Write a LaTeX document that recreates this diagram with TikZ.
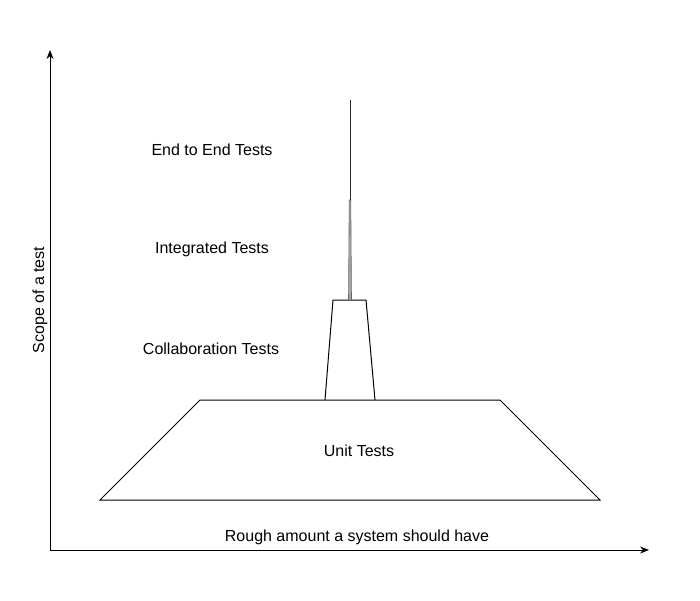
\documentclass[tikz,border=0pt]{standalone}
\usepackage{fontspec}
\setmainfont{Liberation Sans}
\usetikzlibrary{arrows.meta, positioning, calc}

\begin{document}
\begin{tikzpicture}[x=1pt, y=-1pt, >={Stealth[length=9pt, width=7pt]},
    font=\fontsize{16}{19}\selectfont,
    layer/.style={draw=black, line width=1pt, line join=miter},
    axis/.style={->, line width=1pt, black},
    label/.style={inner sep=0pt, anchor=center}
  ]
  \useasboundingbox (0,0) rectangle (700,600);

  % axes
  \coordinate (O) at (50,550);
  \coordinate (ytop) at (50,50);
  \coordinate (xend) at (649,550);
  \draw[axis] (O) -- (ytop);
  \draw[axis] (O) -- (xend);

  % pyramid layers
  \draw[layer] (100,500) -- (200,400) -- (500,400) -- (600,500) -- cycle;
  \draw[layer] (325,400) -- (333,300) -- (366,300) -- (375,400);
  \draw[layer, line width=0.6pt, fill=gray!70, draw=gray!80!black] (348.5,300) -- (349.2,200) -- (350.8,200) -- (351.5,300) -- cycle;
  \draw[layer, draw=black!85] (350,200) -- (350,100);

  % labels
  \node[label] (e2e) at (212,150) {End to End Tests};
  \node[label] (integ) at (212,249) {Integrated Tests};
  \node[label] (collab) at (211,349) {Collaboration Tests};
  \node[label] (unit) at (359,451) {Unit Tests};
  \node[label] (xlab) at (357,537) {Rough amount a system should have};
  \node[label, rotate=90] (ylab) at (40,300) {Scope of a test};
\end{tikzpicture}
\end{document}
